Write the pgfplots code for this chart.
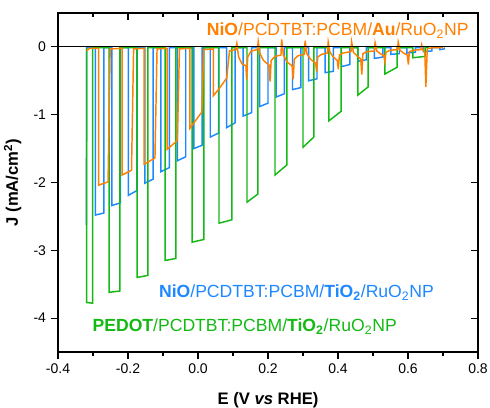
\documentclass[border=0pt]{standalone}
\usepackage{fontspec}
\setmainfont{Liberation Sans}
\usepackage{pgfplots}
\pgfplotsset{compat=1.18}
\definecolor{cO}{RGB}{255,128,0}
\definecolor{cB}{RGB}{30,136,255}
\definecolor{cG}{RGB}{20,185,20}
\begin{document}
\begin{tikzpicture}
\pgfplotsset{
  common/.style={
    width=315pt,height=254.25pt,scale only axis,
    xmin=-0.4,xmax=0.8,ymin=-4.5,ymax=0.5,
    xtick={-0.4,-0.2,0,0.2,0.4,0.6,0.8},
    minor xtick={-0.3,-0.1,0.1,0.3,0.5,0.7},
    ytick={-4,-3,-2,-1,0},
    major tick length=5.5pt, minor tick length=3pt,
    every tick/.style={black,line width=0.9pt},
    axis line style={line width=1pt,-},
    tick label style={font=\fontsize{10.5}{12}\selectfont},
    /pgf/number format/assume math mode=true,
  }
}
\begin{axis}[common,
  tick align=outside, xtick pos=bottom, ytick pos=left,
  xticklabels={-0.4,-0.2,0.0,0.2,0.4,0.6,0.8},
  yticklabels={-4,-3,-2,-1,0},
  xlabel={\textbf{E (V \textit{vs} RHE)}},
  ylabel={\textbf{J (mA/cm\textsuperscript{2})}},
  label style={font=\fontsize{12.5}{14}\selectfont},
  xlabel style={at={(axis description cs:0.5,-0.142)},anchor=center},
  ylabel style={at={(axis description cs:-0.108,0.5)},anchor=center},
  clip=true,
]
% blue: NiO/PCDTBT:PCBM/TiO2/RuO2NP
\addplot[cB, line width=1.1pt] coordinates {
(-0.319,-2.63)(-0.318,-0.01)
(-0.293,-0.01)(-0.293,-2.48)(-0.269,-2.45)(-0.269,-0.01)
(-0.246,-0.01)(-0.246,-2.34)(-0.222,-2.30)(-0.222,-0.01)
(-0.199,-0.01)(-0.199,-2.19)(-0.175,-2.12)(-0.175,-0.01)
(-0.152,-0.01)(-0.152,-2.01)(-0.128,-1.95)(-0.128,-0.01)
(-0.106,-0.01)(-0.106,-1.84)(-0.082,-1.78)(-0.082,-0.01)
(-0.059,-0.01)(-0.059,-1.68)(-0.035,-1.62)(-0.035,-0.01)
(-0.012,-0.01)(-0.012,-1.50)(0.012,-1.45)(0.012,-0.01)
(0.035,-0.01)(0.035,-1.33)(0.059,-1.27)(0.059,-0.01)
(0.082,-0.01)(0.082,-1.19)(0.106,-1.12)(0.106,-0.01)
(0.129,-0.01)(0.129,-1.02)(0.153,-0.97)(0.153,-0.01)
(0.176,-0.01)(0.176,-0.88)(0.200,-0.83)(0.200,-0.01)
(0.223,-0.01)(0.223,-0.74)(0.247,-0.69)(0.247,-0.01)
(0.270,-0.01)(0.270,-0.63)(0.294,-0.60)(0.294,-0.01)
(0.316,-0.01)(0.316,-0.50)(0.340,-0.47)(0.340,-0.01)
(0.363,-0.01)(0.363,-0.38)(0.387,-0.36)(0.387,-0.01)
(0.410,-0.01)(0.410,-0.29)(0.434,-0.26)(0.434,-0.01)
(0.457,-0.01)(0.457,-0.21)(0.481,-0.19)(0.481,-0.01)
(0.504,-0.01)(0.504,-0.17)(0.528,-0.15)(0.528,-0.01)
(0.551,-0.01)(0.551,-0.11)(0.575,-0.10)(0.575,-0.01)
(0.597,-0.01)(0.597,-0.09)(0.621,-0.08)(0.621,-0.01)
(0.644,-0.01)(0.644,-0.07)(0.668,-0.06)(0.668,-0.01)
(0.691,-0.01)(0.691,-0.04)(0.703,-0.03)(0.705,-0.01)
};
% green: PEDOT/PCDTBT:PCBM/TiO2/RuO2NP
\addplot[cG, line width=1.1pt] coordinates {
(-0.318,-0.01)(-0.318,-3.77)(-0.301,-3.78)(-0.301,-0.01)
(-0.254,-0.01)(-0.254,-3.62)(-0.223,-3.60)(-0.223,-0.01)
(-0.174,-0.01)(-0.174,-3.40)(-0.143,-3.37)(-0.143,-0.01)
(-0.094,-0.01)(-0.094,-3.15)(-0.063,-3.12)(-0.063,-0.01)
(-0.017,-0.01)(-0.017,-2.88)(0.017,-2.84)(0.017,-0.01)
(0.060,-0.01)(0.060,-2.60)(0.097,-2.55)(0.097,-0.01)
(0.140,-0.01)(0.140,-2.29)(0.171,-2.17)(0.171,-0.01)
(0.220,-0.01)(0.220,-1.89)(0.254,-1.74)(0.254,-0.01)
(0.300,-0.01)(0.300,-1.48)(0.331,-1.33)(0.331,-0.01)
(0.374,-0.01)(0.374,-1.09)(0.409,-0.95)(0.409,-0.01)
(0.457,-0.01)(0.457,-0.71)(0.486,-0.59)(0.486,-0.01)
(0.534,-0.01)(0.534,-0.40)(0.569,-0.30)(0.569,-0.01)
(0.614,-0.01)(0.614,-0.16)(0.649,-0.14)(0.649,-0.01)
(0.660,-0.01)
};
% orange: NiO/PCDTBT:PCBM/Au/RuO2NP
\addplot[cO, line width=1.1pt] coordinates {
(-0.318,-0.06)(-0.310,-0.02)
(-0.284,-0.02)(-0.284,-2.04)(-0.257,-1.99)(-0.251,-0.03)
(-0.217,-0.02)(-0.217,-1.89)(-0.190,-1.82)(-0.184,-0.03)
(-0.154,-0.02)(-0.154,-1.73)(-0.123,-1.64)(-0.117,-0.03)
(-0.088,-0.02)(-0.088,-1.51)(-0.059,-1.38)(-0.053,-0.03)
(-0.023,-0.02)(-0.023,-1.20)(0.011,-0.96)(0.016,-0.04)
(0.044,-0.03)(0.044,-0.72)(0.060,-0.62)(0.082,-0.46)(0.090,-0.06)(0.108,-0.04)
(0.111,0.05)(0.116,-0.15)(0.126,-0.25)(0.137,-0.28)(0.139,-0.49)(0.142,-0.15)(0.152,-0.06)(0.170,-0.04)
(0.172,0.08)(0.177,-0.10)(0.187,-0.20)(0.203,-0.27)(0.206,-0.51)(0.209,-0.20)(0.220,-0.14)(0.237,-0.12)
(0.239,0.11)(0.244,-0.12)(0.254,-0.22)(0.269,-0.28)(0.272,-0.48)(0.275,-0.18)(0.286,-0.13)(0.304,-0.11)
(0.306,0.09)(0.311,-0.10)(0.321,-0.18)(0.336,-0.24)(0.339,-0.37)(0.342,-0.15)(0.353,-0.11)(0.370,-0.09)
(0.372,0.07)(0.377,-0.08)(0.387,-0.15)(0.398,-0.20)(0.401,-0.33)(0.404,-0.12)(0.415,-0.09)(0.437,-0.07)
(0.439,0.07)(0.444,-0.08)(0.454,-0.13)(0.465,-0.18)(0.468,-0.41)(0.471,-0.10)(0.482,-0.07)(0.504,-0.06)
(0.506,0.06)(0.511,-0.06)(0.521,-0.10)(0.531,-0.13)(0.534,-0.22)(0.537,-0.08)(0.548,-0.05)(0.570,-0.04)
(0.572,0.07)(0.577,-0.05)(0.587,-0.09)(0.598,-0.12)(0.601,-0.26)(0.604,-0.07)(0.615,-0.05)(0.637,-0.04)
(0.639,0.03)(0.643,-0.05)(0.648,-0.08)(0.651,-0.59)(0.655,-0.03)(0.670,-0.01)(0.700,-0.01)
};
\addplot[black, line width=0.9pt] coordinates {(-0.4,0)(0.8,0)};
\node[anchor=east, text=cO, font=\fontsize{13.2}{15}\selectfont, inner sep=0pt] at (axis cs:0.774,0.236)
  {\textbf{NiO}/PCDTBT:PCBM/\textbf{Au}/RuO\textsubscript{2}NP};
\node[anchor=west, text=cB, font=\fontsize{13.2}{15}\selectfont, inner sep=0pt] at (axis cs:-0.112,-3.63)
  {\textbf{NiO}/PCDTBT:PCBM/\textbf{TiO\textsubscript{2}}/RuO\textsubscript{2}NP};
\node[anchor=west, text=cG, font=\fontsize{13.2}{15}\selectfont, inner sep=0pt] at (axis cs:-0.302,-4.12)
  {\textbf{PEDOT}/PCDTBT:PCBM/\textbf{TiO\textsubscript{2}}/RuO\textsubscript{2}NP};
\end{axis}
\begin{axis}[common,
  axis x line*=top, axis y line*=right, tick align=inside,
  xticklabels={}, yticklabels={},
]
\end{axis}
\pgfresetboundingbox
\path[use as bounding box] ([shift={(-43.5pt,-41.25pt)}]current axis.south west) rectangle ([shift={(9pt,9.75pt)}]current axis.north east);
\end{tikzpicture}
\end{document}
